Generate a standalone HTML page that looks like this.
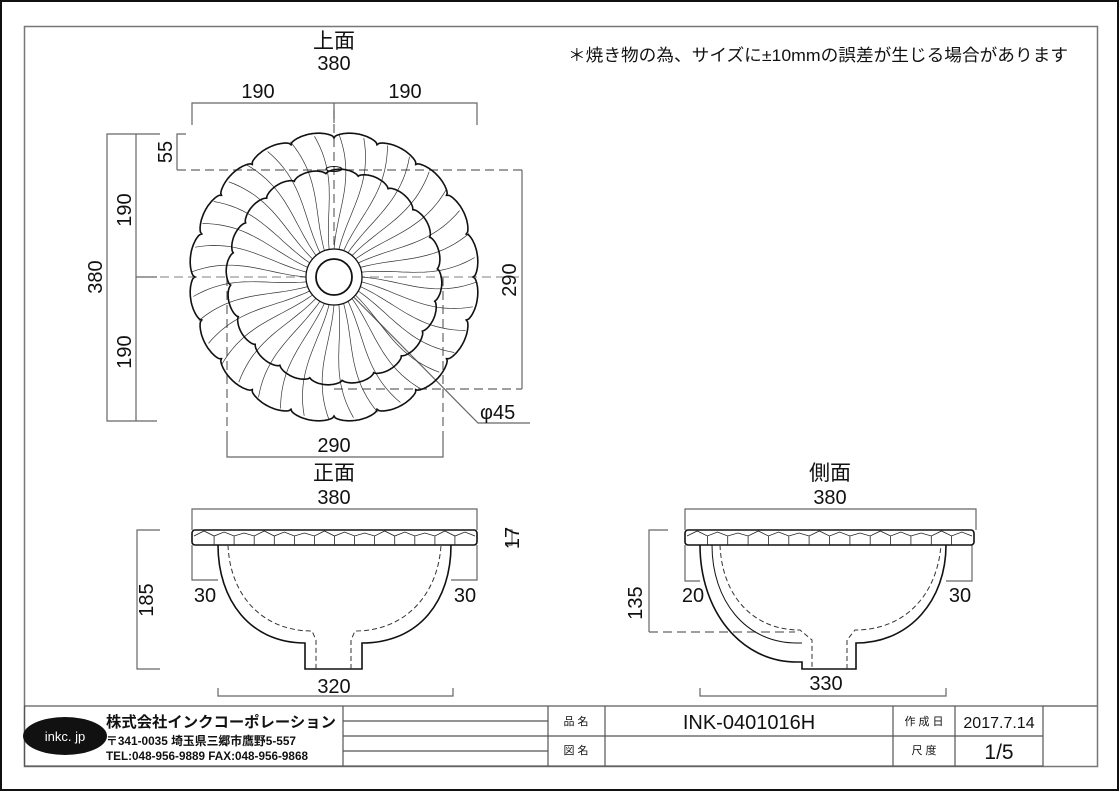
<!DOCTYPE html>
<html><head><meta charset="utf-8">
<style>
html,body{margin:0;padding:0;background:#fff}
body{width:1120px;height:792px;overflow:hidden;position:relative}
svg{position:absolute;left:0;top:0}
text{font-family:"Liberation Sans","Noto Sans CJK JP",sans-serif;fill:#111}
</style></head><body>
<svg id="s" width="1120" height="792" viewBox="0 0 1120 792" xmlns="http://www.w3.org/2000/svg">
<rect x="1" y="1" width="1117" height="789" fill="none" stroke="#111" stroke-width="2"/>
<rect x="24.5" y="26.5" width="1073" height="740" fill="none" stroke="#777" stroke-width="1.5"/>

<g stroke="#666" stroke-width="1.2" fill="none">
<polyline points="192,125 192,103 477,103 477,125"/>
<line x1="334" y1="103" x2="334" y2="123"/>
<polyline points="160,134 107,134 107,421 157,421"/>
<line x1="136" y1="134" x2="136" y2="421"/>
<line x1="136" y1="277" x2="157" y2="277"/>
<polyline points="186,134 177,134 177,170"/>
<line x1="522" y1="170" x2="522" y2="389"/>
<polyline points="227,440 227,457 443,457 443,440"/>
<polyline points="334,277 478,423 530,423"/>
<polyline points="192,530 192,509 477,509 477,530"/>
<polyline points="160,530 137,530 137,669 160,669"/>
<polyline points="505,530 512,530 512,545 505,545"/>
<polyline points="192,545 192,580 218,580"/>
<polyline points="477,545 477,580 451,580"/>
<polyline points="218,688 218,696 453,696 453,688"/>
<polyline points="685,530 685,509 976,509 976,530"/>
<polyline points="668,530 649,530 649,632"/>
<polyline points="685,545 685,581 700,581"/>
<polyline points="972,545 972,581 946,581"/>
<polyline points="700,688 700,696 946,696 946,688"/>
</g>
<g stroke="#666" stroke-width="1.2" fill="none" stroke-dasharray="9,5">
<line x1="177" y1="170" x2="522" y2="170"/>
<line x1="334" y1="389" x2="522" y2="389"/>
<line x1="227" y1="277" x2="227" y2="440"/>
<line x1="443" y1="277" x2="443" y2="440"/>
<line x1="334" y1="110" x2="334" y2="277"/>
<line x1="160" y1="277" x2="520" y2="277" stroke="#999"/>
<line x1="649" y1="632" x2="795" y2="632"/>
</g>

<g id="top" fill="none" stroke="#111"></g>

<g fill="none" stroke="#111" stroke-width="1.6">
<rect x="192" y="530" width="285" height="15" rx="3"/>
<path d="M218,545 C218,600 250,643 305,643 L305,669 L362,669 L362,643 C420,643 451,600 451,545"/>
<rect x="685" y="530" width="289" height="15" rx="3"/>
<path d="M700,545 C700,610 740,662 797,662 L802,662 L802,669 L856,669 L856,643 C910,643 946,600 946,545"/>
<path stroke-width="1" d="M712,545 C712,600 745,643 797,643 L802,643"/>
</g>
<g fill="none" stroke="#333" stroke-width="1" stroke-dasharray="5,3">
<path d="M228,545 C230,595 262,631 312,631 L316,640 L316,669 M351,669 L351,640 L355,631 C405,631 438,595 441,545"/>
<path d="M720,545 C722,595 752,630 800,630 L812,640 L812,669 M847,669 L847,640 L855,630 C905,630 937,595 941,545"/>
</g>
<g id="rims" fill="none" stroke="#222" stroke-width="0.8"></g>

<g stroke="#555" stroke-width="1.2" fill="none">
<rect x="24.5" y="706" width="1018.5" height="60"/>
<line x1="343" y1="706" x2="343" y2="766"/>
<line x1="548" y1="706" x2="548" y2="766"/>
<line x1="605" y1="706" x2="605" y2="766"/>
<line x1="893" y1="706" x2="893" y2="766"/>
<line x1="955" y1="706" x2="955" y2="766"/>
<line x1="343" y1="721" x2="548" y2="721"/>
<line x1="343" y1="736" x2="1043" y2="736"/>
<line x1="343" y1="751" x2="548" y2="751"/>
<line x1="1043" y1="706" x2="1097" y2="706"/>
</g>
<ellipse cx="65" cy="736" rx="42" ry="19" fill="#111"/>
<text x="65" y="741" font-size="13" text-anchor="middle" style="fill:#fff">inkc. jp</text>
<text x="106" y="727" font-size="15" font-weight="bold" textLength="230" lengthAdjust="spacingAndGlyphs">株式会社インクコーポレーション</text>
<text x="106" y="745" font-size="12" font-weight="bold" textLength="190" lengthAdjust="spacingAndGlyphs">〒341-0035 埼玉県三郷市鷹野5-557</text>
<text x="106" y="760" font-size="12" font-weight="bold" textLength="202" lengthAdjust="spacingAndGlyphs">TEL:048-956-9889  FAX:048-956-9868</text>
<text x="576" y="725" font-size="11" text-anchor="middle">品 名</text>
<text x="576" y="754" font-size="11" text-anchor="middle">図 名</text>
<text x="749" y="729" font-size="20" text-anchor="middle">INK-0401016H</text>
<text x="924" y="725" font-size="11" text-anchor="middle">作 成 日</text>
<text x="924" y="754" font-size="11" text-anchor="middle">尺 度</text>
<text x="999" y="728" font-size="16" text-anchor="middle">2017.7.14</text>
<text x="999" y="759" font-size="21" text-anchor="middle">1/5</text>

<g font-size="20" text-anchor="middle">
<text x="334" y="48" font-size="21">上面</text>
<text x="334" y="70">380</text>
<text x="258" y="98">190</text>
<text x="405" y="98">190</text>
<text x="334" y="452">290</text>
<text x="480" y="419" text-anchor="start">φ45</text>
<text transform="translate(102,277) rotate(-90)">380</text>
<text transform="translate(131,210) rotate(-90)">190</text>
<text transform="translate(131,352) rotate(-90)">190</text>
<text transform="translate(172,152) rotate(-90)">55</text>
<text transform="translate(516,280) rotate(-90)">290</text>
<text x="334" y="480" font-size="21">正面</text>
<text x="334" y="504">380</text>
<text transform="translate(519,538) rotate(-90)">17</text>
<text transform="translate(153,600) rotate(-90)">185</text>
<text x="205" y="602">30</text>
<text x="465" y="602">30</text>
<text x="334" y="693">320</text>
<text x="830" y="480" font-size="21">側面</text>
<text x="830" y="504">380</text>
<text transform="translate(642,603) rotate(-90)">135</text>
<text x="693" y="602">20</text>
<text x="960" y="602">30</text>
<text x="826" y="690">330</text>
</g>
<text x="568" y="61" font-size="17" textLength="500" lengthAdjust="spacingAndGlyphs">＊焼き物の為、サイズに±10mmの誤差が生じる場合があります</text>
</svg>
<script>
(function(){
var NS="http://www.w3.org/2000/svg",cx=334,cy=277,g=document.getElementById('top');
function el(t,a){var e=document.createElementNS(NS,t);for(var k in a)e.setAttribute(k,a[k]);return e;}
function scal(R,a,n,off){var p=[];for(var i=0;i<=720;i++){var t=i/720*2*Math.PI;var s=Math.abs(Math.sin(n*(t+off)/2));var r=R-a+a*Math.sqrt(s);p.push((cx+r*Math.cos(t)).toFixed(1)+','+(cy+r*Math.sin(t)).toFixed(1));}return p.join(' ');}
var d='';
for(var i=0;i<36;i++){var t0=i/36*2*Math.PI;var pts=[];
 for(var k=0;k<=20;k++){var r=28+(114*k/20);var t=t0+0.12*Math.sin(Math.PI*k/20*0.9);pts.push((cx+r*Math.cos(t)).toFixed(1)+','+(cy+r*Math.sin(t)).toFixed(1));}
 d+='M'+pts.join(' L');}
g.appendChild(el('path',{d:d,'stroke-width':'0.7',stroke:'#333'}));
g.appendChild(el('polygon',{points:scal(145,6,20,0),'stroke-width':'1.6',fill:'none'}));
g.appendChild(el('polygon',{points:scal(108,5,20,0.08),'stroke-width':'1.6',fill:'none'}));
g.appendChild(el('circle',{cx:cx,cy:cy,r:28,fill:'#fff','stroke-width':'1.3'}));
g.appendChild(el('circle',{cx:cx,cy:cy,r:18,fill:'#fff','stroke-width':'1.8'}));
g.appendChild(el('ellipse',{cx:334,cy:169,rx:8,ry:2.5,'stroke-width':'1'}));
var rims=document.getElementById('rims');
function rim(x0,x1){var d='M'+x0+',536',w=(x1-x0)/14;for(var j=0;j<14;j++){var a=x0+j*w;d+=' L'+(a+w/2).toFixed(1)+','+(531+ (j%3))+' L'+(a+w).toFixed(1)+',536';}
 for(var j=1;j<14;j++){var a=(x0+j*w).toFixed(1);d+=' M'+a+',536 L'+a+',545';}
 rims.appendChild(el('path',{d:d}));}
rim(194,475);rim(687,972);
})();
</script>
</body></html>
